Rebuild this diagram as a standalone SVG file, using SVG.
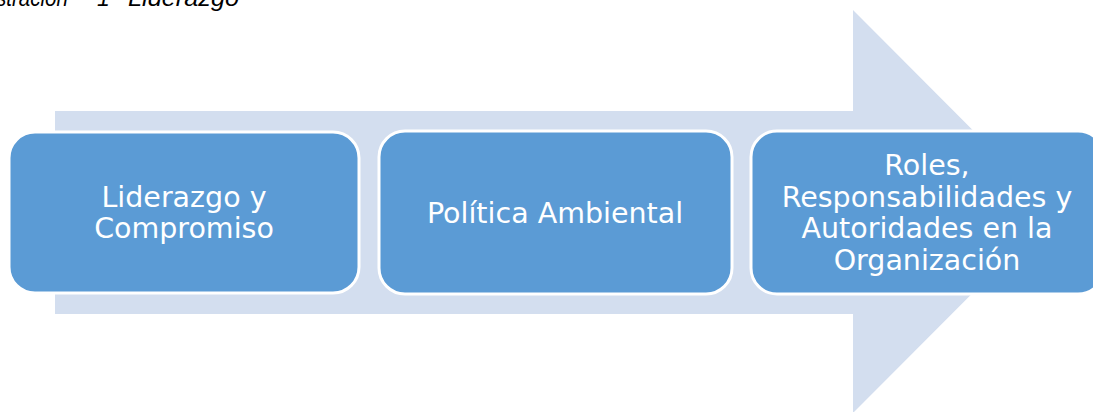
<svg xmlns="http://www.w3.org/2000/svg" width="1093" height="412" viewBox="0 0 1093 412">
<style>
.box{fill:#5B9BD5;stroke:#FFFFFF;stroke-width:3}
.lbl{font-family:"DejaVu Sans",Verdana,sans-serif;font-size:28.5px;fill:#FFFFFF;text-anchor:middle}
.cap{font-family:"Liberation Sans",Arial,sans-serif;font-style:italic;font-size:23px;fill:#000000}
</style>
<rect width="1093" height="412" fill="#FFFFFF"/>
<text class="cap" y="6"><tspan x="-4" textLength="72" lengthAdjust="spacingAndGlyphs">stración</tspan><tspan x="97">1</tspan><tspan x="128" textLength="111" lengthAdjust="spacingAndGlyphs">Liderazgo</tspan></text>
<g id="connectors">
<polygon points="55,111 853,111 853,10 1054,211.5 853,413 853,314 55,314" fill="#D3DEEF"/>
</g>
<g id="node1">
<rect class="box" x="9" y="132" width="350" height="161" rx="26"/>
<text class="lbl" x="184" y="207">Liderazgo y</text>
<text class="lbl" x="184" y="238">Compromiso</text>
</g>
<g id="node2">
<rect class="box" x="379" y="131" width="353" height="163" rx="26"/>
<text class="lbl" x="555" y="223">Política Ambiental</text>
</g>
<g id="node3">
<rect class="box" x="751" y="131" width="353" height="163" rx="26"/>
<text class="lbl" x="927" y="175">Roles,</text>
<text class="lbl" x="927" y="207">Responsabilidades y</text>
<text class="lbl" x="927" y="238">Autoridades en la</text>
<text class="lbl" x="927" y="270">Organización</text>
</g>
</svg>
